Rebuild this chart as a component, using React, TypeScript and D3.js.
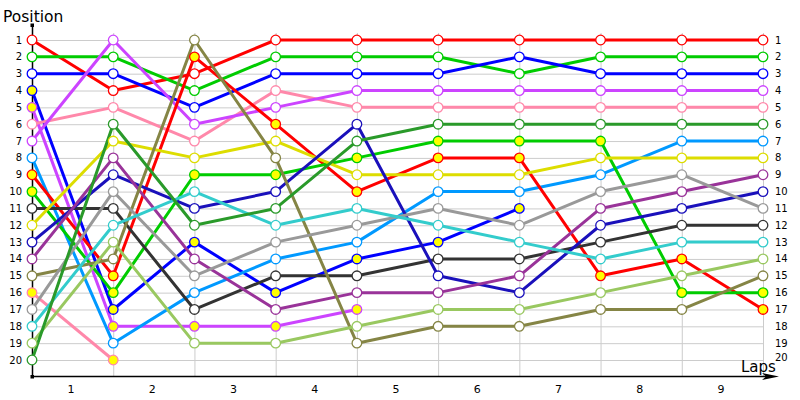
import React from "react";
import * as d3 from "d3";

const lapLabels = ["1", "2", "3", "4", "5", "6", "7", "8", "9"];
const positions = d3.range(1, 21);

const seriesNames = [
  "red", "green", "blue", "blueY", "violetY", "pink", "violet", "lightblue",
  "redY", "greenY", "darkgray", "yellow", "navy", "purple", "olive", "pinkY",
  "gray", "cyan", "lightgreen", "forest",
];
const seriesColors = [
  "#ff0000", "#00cc00", "#0000ff", "#0000ff", "#cc44ff", "#ff88aa", "#cc44ff", "#0099ff",
  "#ff0000", "#00cc00", "#333333", "#dddd00", "#1a10bb", "#993399", "#858545", "#ff88aa",
  "#999999", "#33cccc", "#99c860", "#2a9a2a",
];
const seriesFills = [
  "white", "white", "white", "#ffff00", "#ffff00", "white", "white", "white",
  "#ffff00", "#ffff00", "white", "white", "white", "white", "white", "#ffff00",
  "white", "white", "white", "white",
];
const seriesValues: number[][] = [
  [1, 4, 3, 1, 1, 1, 1, 1, 1, 1],
  [2, 2, 4, 2, 2, 2, 3, 2, 2, 2],
  [3, 3, 5, 3, 3, 3, 2, 3, 3, 3],
  [4, 17, 13, 16, 14, 13, 11],
  [5, 18, 18, 18, 17],
  [6, 5, 7, 4, 5, 5, 5, 5, 5, 5],
  [7, 1, 6, 5, 4, 4, 4, 4, 4, 4],
  [8, 19, 16, 14, 13, 10, 10, 9, 7, 7],
  [9, 15, 2, 6, 10, 8, 8, 15, 14, 17],
  [10, 16, 9, 9, 8, 7, 7, 7, 16, 16],
  [11, 11, 17, 15, 15, 14, 14, 13, 12, 12],
  [12, 7, 8, 7, 9, 9, 9, 8, 8, 8],
  [13, 9, 11, 10, 6, 15, 16, 12, 11, 10],
  [14, 8, 14, 17, 16, 16, 15, 11, 10, 9],
  [15, 14, 1, 8, 19, 18, 18, 17, 17, 15],
  [16, 20],
  [17, 10, 15, 13, 12, 11, 12, 10, 9, 11],
  [18, 12, 10, 12, 11, 12, 13, 14, 13, 13],
  [19, 13, 19, 19, 18, 17, 17, 16, 15, 14],
  [20, 6, 12, 11, 7, 6, 6, 6, 6, 6],
];

const W = 800;
const H = 400;
const FONT = "'DejaVu Sans', Verdana, sans-serif";

export default function App() {
  const x = d3.scaleLinear().domain([0, 9]).range([32, 763]);
  const y = d3.scaleLinear().domain([1, 20]).range([40, 360]);
  const axisY = 376;
  const line = d3
    .line<number>()
    .x((_, i) => x(i))
    .y((d) => y(d));
  const laps = d3.range(0, 10);

  return (
    <div style={{ position: "absolute", left: 0, top: 0 }}>
      <svg width={W} height={H} style={{ display: "block", background: "white" }}>
        {/* grid */}
        <g stroke="#cccccc" strokeWidth={1}>
          {positions.map((p) => (
            <line key={"h" + p} x1={x(0)} x2={x(9)} y1={y(p) + 0.5} y2={y(p) + 0.5} />
          ))}
          {laps.slice(1).map((l) => (
            <line key={"v" + l} x1={x(l) + 0.5} x2={x(l) + 0.5} y1={33} y2={axisY} />
          ))}
        </g>
        {/* axes */}
        <line x1={x(0) + 0.5} x2={x(0) + 0.5} y1={25} y2={axisY} stroke="black" strokeWidth={1.5} />
        <rect x={x(0) - 1.5} y={23.5} width={3.5} height={3.5} fill="black" />
        <line x1={x(0)} x2={770} y1={axisY + 0.5} y2={axisY + 0.5} stroke="black" strokeWidth={1.5} />
        <path d={`M762,${axisY - 3} L779,${axisY + 0.5} L762,${axisY + 4} L766,${axisY + 0.5} Z`} fill="black" />
        <rect x={x(0) - 1.5} y={axisY - 1} width={3.5} height={3.5} fill="black" />
        {/* position labels */}
        <g fontFamily={FONT} fontSize={10} fill="black">
          {positions.map((p) => (
            <text key={"l" + p} x={22} y={y(p) + 3.5} textAnchor="end">
              {p}
            </text>
          ))}
          {positions.map((p) => (
            <text key={"r" + p} x={775} y={y(p) + (p === 20 ? 1 : 3.5)} textAnchor="start">
              {p}
            </text>
          ))}
        </g>
        {/* lap labels */}
        <g fontFamily={FONT} fontSize={11} fill="black">
          {lapLabels.map((t, i) => (
            <text key={"lap" + t} x={(x(i) + x(i + 1)) / 2 - 1.5} y={393} textAnchor="middle">
              {t}
            </text>
          ))}
        </g>
        <text x={3} y={22} fontFamily={FONT} fontSize={15.5} fill="black">
          Position
        </text>
        <text x={741} y={372} fontFamily={FONT} fontSize={15} fill="black">
          Laps
        </text>
        {/* series lines */}
        <g fill="none" strokeWidth={3} strokeLinejoin="round">
          {seriesValues.map((vals, s) => (
            <path key={"p" + s} d={line(vals) || ""} stroke={seriesColors[s]} />
          ))}
        </g>
        {/* markers */}
        <g strokeWidth={1.3}>
          {seriesValues.map((vals, s) =>
            vals.map((v, i) => (
              <circle
                key={"c" + s + "-" + i}
                cx={x(i)}
                cy={y(v)}
                r={4.8}
                fill={seriesFills[s]}
                stroke={seriesColors[s]}
              />
            ))
          )}
        </g>
      </svg>
    </div>
  );
}
